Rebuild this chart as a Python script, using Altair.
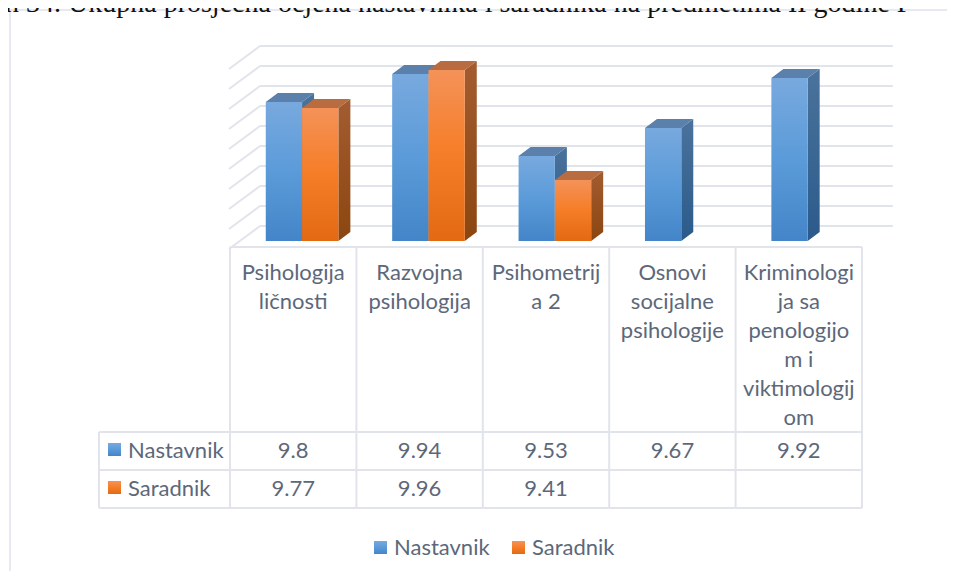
import altair as alt
import pandas as pd

categories = ["Psihologija\nličnosti", "Razvojna\npsihologija", "Psihometrij\na 2",
              "Osnovi\nsocijalne\npsihologije",
              "Kriminologi\nja sa\npenologijo\nm i\nviktimologij\nom"]
nastavnik = [9.8, 9.94, 9.53, 9.67, 9.92]
saradnik = [9.77, 9.96, 9.41, None, None]
nastavnik_labels = ["9.8", "9.94", "9.53", "9.67", "9.92"]
saradnik_labels = ["9.77", "9.96", "9.41", "", ""]
series_names = ["Nastavnik", "Saradnik"]
grid_values = [9.1, 9.2, 9.3, 9.4, 9.5, 9.6, 9.7, 9.8, 9.9, 10.0]
caption = "n 34. Ukupna prosječna ocjena nastavnika i saradnika na predmetima II godine P"

FONT = "Lato"
FS = 22
TXT = "#5c687a"
LINE = "#e1e4eb"
FRAME = "#e6e9f0"
W, H = 939, 563
PXX = 126.4      # px per category
PXV = 200.0      # px per value unit
V0 = 9.105       # value at the bars' base line (page y = 241)
def ux(px): return (px - 230) / PXX
def uy(py): return V0 + (241 - py) / PXV

xs = alt.Scale(domain=[ux(8), ux(8 + W)], nice=False, zero=False)
ys = alt.Scale(domain=[uy(8 + H), uy(8)], nice=False, zero=False)
X = alt.X("x:Q", scale=xs, axis=None)
X2 = alt.X2("x2:Q")
Y = alt.Y("y:Q", scale=ys, axis=None, stack=None)
Y2 = alt.Y2("y2:Q")

def grad(stops):
    return alt.Gradient(gradient="linear", x1=0, x2=0, y1=0, y2=1,
                        stops=[alt.GradientStop(offset=o, color=c) for o, c in stops])

BLUE = grad([(0, "#78a9de"), (0.5, "#5b9bd9"), (1, "#4385c8")])
BLUE_S = grad([(0, "#4a739c"), (1, "#2b5a8b")])
BLUE_C = "#5a80ab"
ORANGE = grad([(0, "#f49259"), (0.45, "#f67f2b"), (1, "#e36a12")])
ORANGE_S = grad([(0, "#a35c30"), (1, "#8b4610")])
ORANGE_C = "#b86c40"

BAR = 36.3 / PXX
DX = 12 / PXX
DY = 9 / PXV

def rule_h(rows, color=LINE):
    return alt.Chart(pd.DataFrame(rows)).mark_rule(color=color, strokeWidth=2).encode(X, X2, Y)
def rule_v(rows, color=LINE):
    return alt.Chart(pd.DataFrame(rows)).mark_rule(color=color, strokeWidth=2).encode(X, Y, Y2)

def bar_layers(values, offset, front, side, cap):
    fr, sd, cp = [], [], []
    for i, v in enumerate(values):
        if v is None:
            continue
        xl = i + offset * BAR + 0.283
        xr = xl + BAR
        fr.append(dict(x=xl, x2=xr, y=v, y2=V0))
        sd += [dict(id=i, x=xr, y=v, y2=V0), dict(id=i, x=xr + DX, y=v + DY, y2=V0 + DY)]
        cp += [dict(id=i, x=xl, y=v, y2=v), dict(id=i, x=xl + DX, y=v + DY, y2=v),
               dict(id=i, x=xr, y=v + DY, y2=v), dict(id=i, x=xr + DX, y=v + DY, y2=v + DY)]
    return [
        alt.Chart(pd.DataFrame(sd)).mark_area(color=side, line=False).encode(X, Y, Y2, detail="id:N"),
        alt.Chart(pd.DataFrame(cp)).mark_area(color=cap, line=False).encode(X, Y, Y2, detail="id:N"),
        alt.Chart(pd.DataFrame(fr)).mark_bar(color=front).encode(X, X2, Y, Y2),
    ]

def swatch(px, py, fill):
    d = pd.DataFrame([dict(x=ux(px), x2=ux(px + 13), y=uy(py), y2=uy(py + 13))])
    return alt.Chart(d).mark_bar(color=fill).encode(X, X2, Y, Y2)

# back wall of the 3-D plot
BACK = 0.08
diag = []
for k, v in enumerate(grid_values):
    diag += [dict(id=k, x=ux(229), y=v + BACK - 23 / PXV), dict(id=k, x=ux(260), y=v + BACK)]

# table rows / columns
n = len(categories)
rows_y = [uy(432), uy(470), uy(508)]
h = [dict(x=0, x2=n, y=uy(247))] + [dict(x=ux(99), x2=n, y=r) for r in rows_y]
v_lines = [dict(x=ux(99), y=rows_y[0], y2=rows_y[2])] + [dict(x=c, y=uy(247), y2=rows_y[2]) for c in range(n + 1)]

cat_df = pd.DataFrame([dict(x=i + 0.5, y=uy(263), t=c) for i, c in enumerate(categories)])
val_rows = [dict(x=i + 0.5, y=uy(451), t=t) for i, t in enumerate(nastavnik_labels)] + \
           [dict(x=i + 0.5, y=uy(489), t=t) for i, t in enumerate(saradnik_labels) if t]
lab_rows = [dict(x=ux(128), y=uy(451), t=series_names[0]), dict(x=ux(128), y=uy(489), t=series_names[1]),
            dict(x=ux(394), y=uy(548), t=series_names[0]), dict(x=ux(532), y=uy(548), t=series_names[1])]

layers = [
    rule_h([dict(x=ux(10), x2=ux(8 + W), y=uy(10))], FRAME),
    rule_v([dict(x=ux(10), y=uy(10), y2=uy(8 + H))], FRAME),
    alt.Chart(pd.DataFrame([dict(x=ux(5), y=uy(12), t=caption)])).mark_text(
        font="Liberation Serif", fontSize=28, align="left", baseline="alphabetic",
        color="#111111", clip=True).encode(X, Y, text="t:N"),
    rule_h([dict(x=ux(260), x2=ux(893), y=v + BACK) for v in grid_values]),
    alt.Chart(pd.DataFrame(diag)).mark_line(color=LINE, strokeWidth=2).encode(X, Y, detail="id:N"),
]
layers += bar_layers(nastavnik, 0, BLUE, BLUE_S, BLUE_C)
layers += bar_layers(saradnik, 1, ORANGE, ORANGE_S, ORANGE_C)
layers += [
    rule_h(h), rule_v(v_lines),
    alt.Chart(cat_df).mark_text(font=FONT, fontSize=FS, color=TXT, align="center", baseline="top",
                                lineBreak="\n", lineHeight=29).encode(X, Y, text="t:N"),
    alt.Chart(pd.DataFrame(val_rows)).mark_text(font=FONT, fontSize=FS, color=TXT, align="center",
                                                baseline="middle").encode(X, Y, text="t:N"),
    alt.Chart(pd.DataFrame(lab_rows)).mark_text(font=FONT, fontSize=FS, color=TXT, align="left",
                                                baseline="middle").encode(X, Y, text="t:N"),
    swatch(108, 443, BLUE), swatch(108, 481, ORANGE),
    swatch(374, 541, BLUE), swatch(512, 541, ORANGE),
]

chart = alt.layer(*layers).properties(width=W, height=H, padding=0, background="white",
                                      autosize=alt.AutoSizeParams(type="none")).configure_view(stroke=None)
chart.save("out.html", embed_options={"renderer": "svg", "actions": False})
